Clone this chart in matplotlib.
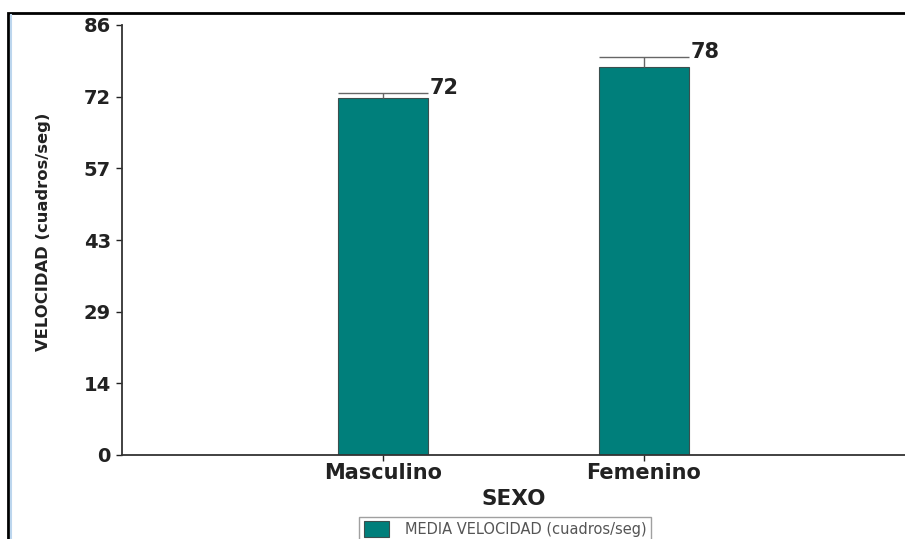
import matplotlib.pyplot as plt
from matplotlib.patches import Rectangle
from matplotlib.lines import Line2D
import numpy as np

plt.rcParams["font.family"] = ["DejaVu Sans"]

categories = ["Masculino", "Femenino"]
means = [71.35, 77.7]
errors = [1.1, 1.95]
value_labels = ["72", "78"]
ytick_labels = ["0", "14", "29", "43", "57", "72", "86"]

teal = "#007f7b"
x = np.arange(len(categories))
width = 0.345

fig = plt.figure(figsize=(9.05, 5.39), dpi=100)
ax = fig.add_axes([122 / 905, 1 - 455 / 539, 1 - 122 / 905, 430 / 539])

# outer frame of the pasted chart
fig.patches.append(Rectangle((8 / 905, -0.05), 1.0, 1 - 13 / 539 + 0.05, transform=fig.transFigure,
                             fill=False, edgecolor="black", linewidth=2.0, zorder=0))
fig.lines.append(Line2D([11 / 905, 11 / 905], [0, 1 - 15 / 539], transform=fig.transFigure,
                        color="#bcd6ee", linewidth=1.5))

ax.bar(x, means, width=width, color=teal, edgecolor="#3b4f4e", linewidth=0.8,
       label="MEDIA VELOCIDAD (cuadros/seg)", zorder=2)

# upper error bars with caps as wide as the bars
tops = np.array(means) + np.array(errors)
ax.vlines(x, means, tops, color="#666666", linewidth=1.0, zorder=3)
ax.hlines(tops, x - width / 2, x + width / 2, color="#666666", linewidth=1.0, zorder=3)

for xi, t, lab in zip(x, tops, value_labels):
    ax.text(xi + width / 2 + 0.008, t + 0.9, lab, ha="left", va="center",
            fontsize=15, fontweight="bold", color="#222222")

ax.set_xlim(-1, 2.0)
ax.set_ylim(0, 86)
ax.set_yticks(np.linspace(0, 86, 7))
ax.set_yticklabels(ytick_labels)
ax.set_xticks(x)
ax.set_xticklabels(categories)
ax.tick_params(axis="y", labelsize=14, length=4, width=1, pad=4, colors="#222222")
ax.tick_params(axis="x", labelsize=15, length=4, width=1, pad=2, colors="#222222")
for t in ax.get_xticklabels() + ax.get_yticklabels():
    t.set_fontweight("bold")

ax.spines["top"].set_visible(False)
ax.spines["right"].set_visible(False)
ax.spines["left"].set_linewidth(1.3)
ax.spines["bottom"].set_linewidth(1.3)
ax.spines["left"].set_color("#333333")
ax.spines["bottom"].set_color("#333333")

ax.set_xlabel("SEXO", fontsize=15.5, fontweight="bold", color="#222222", labelpad=4)
ax.set_ylabel("VELOCIDAD (cuadros/seg)", fontsize=11.8, fontweight="bold", color="#222222")
ax.yaxis.set_label_coords(-0.091, 0.52)

leg = ax.legend(loc="upper center", bbox_to_anchor=(505 / 905, 1 - 517 / 539), bbox_transform=fig.transFigure,
                fontsize=10.5, frameon=True, fancybox=False, edgecolor="#888888", handlelength=1.7,
                handleheight=1.3, handletextpad=1.1, borderpad=0.3, borderaxespad=0)
for txt in leg.get_texts():
    txt.set_color("#555555")

fig.savefig("out.png", dpi=100)
